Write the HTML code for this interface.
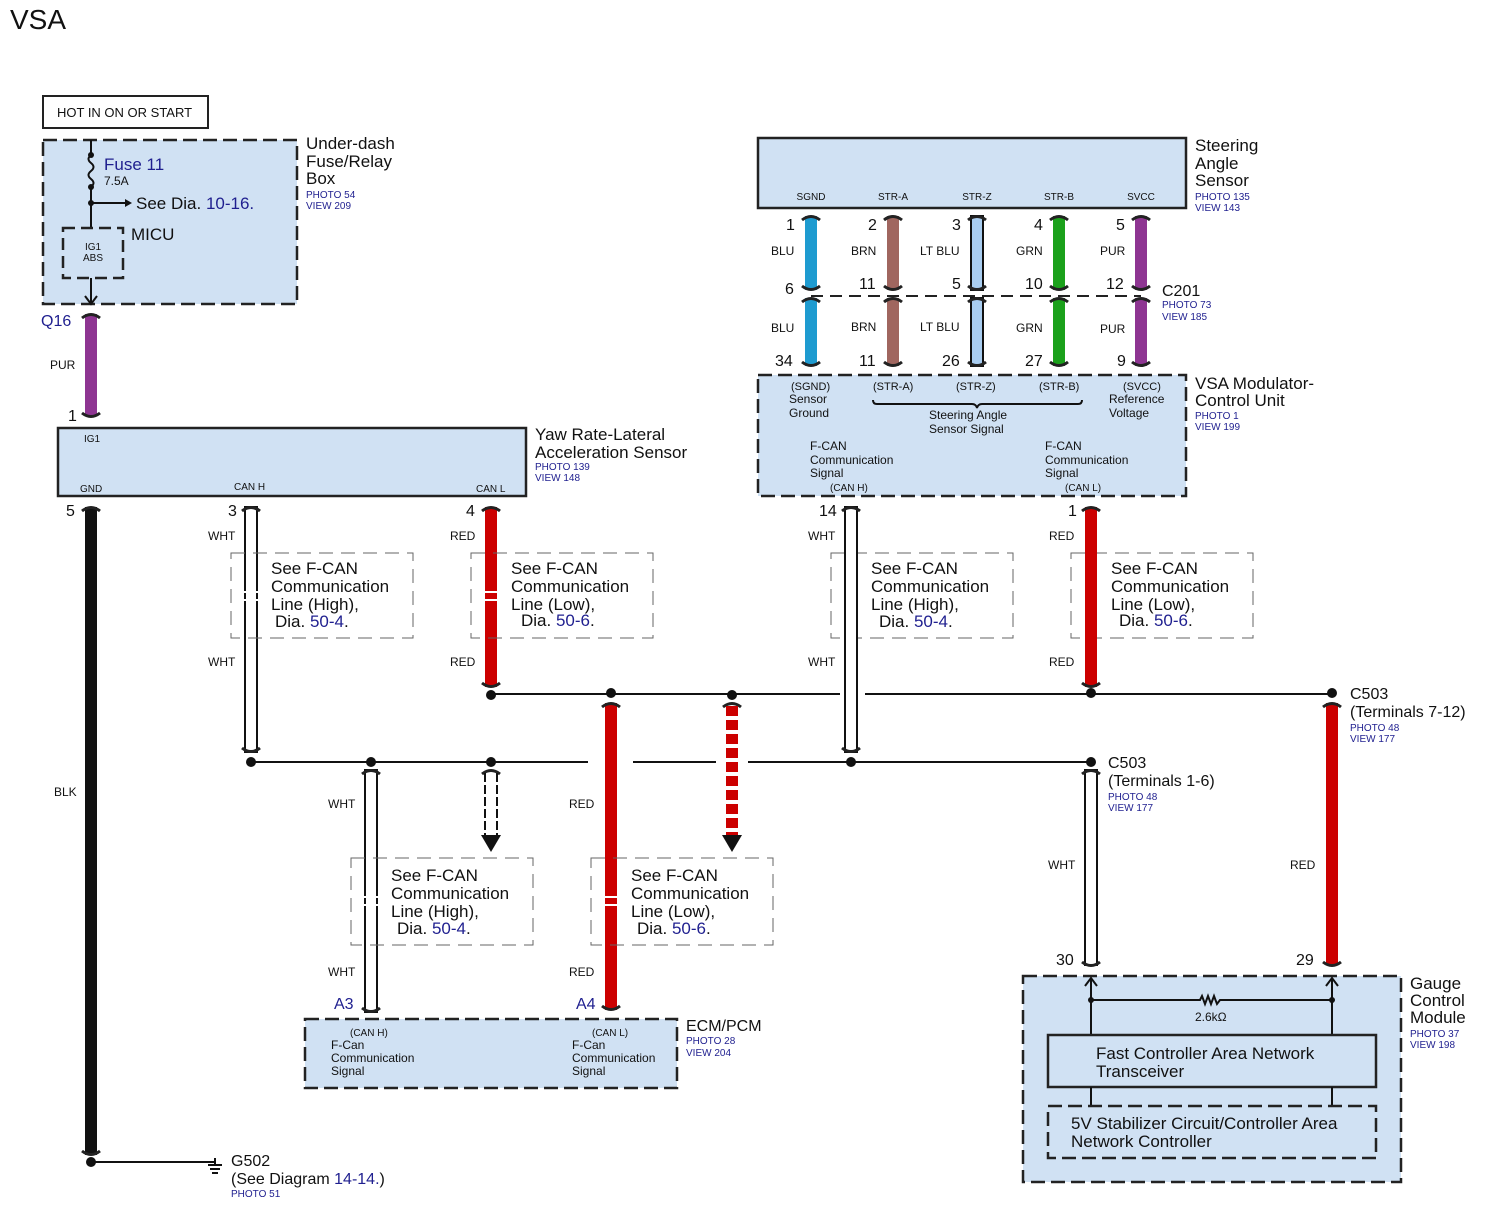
<!DOCTYPE html>
<html><head><meta charset="utf-8"><style>
html,body{margin:0;padding:0;background:#fff}
svg{display:block}
text{font-family:"Liberation Sans",Arial,sans-serif;fill:#111}
.b{fill:#1f1f8f}
.s10{font-size:10px}.s11{font-size:11px}.s12{font-size:12px}.s13{font-size:13px}.s16{font-size:16px}.s17{font-size:17px}
.box{fill:#d0e1f3;stroke:#222;stroke-width:2.5}
.dash{stroke-dasharray:14 6}
.see{fill:none;stroke:#666;stroke-width:1;stroke-dasharray:14 8}
.cap{fill:none;stroke:#222;stroke-width:3}
.ln{stroke:#111;stroke-width:2;fill:none}
</style></head><body>
<svg width="1494" height="1207" viewBox="0 0 1494 1207" xmlns="http://www.w3.org/2000/svg">
<defs>
<g id="capT"><path class="cap" d="M-9 4 Q0 -3 9 4"/></g>
<g id="capB"><path class="cap" d="M-9 -4 Q0 3 9 -4"/></g>
</defs>
<text x="10" y="29" style="font-size:28px">VSA</text>

<!-- HOT box -->
<rect x="43" y="96" width="165" height="32" fill="#fff" stroke="#222" stroke-width="2"/>
<text x="57" y="117" class="s13">HOT IN ON OR START</text>

<!-- Under-dash -->
<rect x="43" y="140" width="254" height="164" class="box dash"/>
<line x1="91" y1="140" x2="91" y2="155" class="ln"/>
<path d="M91 155 q-5 4 0 8 q5 4 0 8 q-5 4 0 8 q5 4 0 8" class="ln"/>
<line x1="91" y1="187" x2="91" y2="228" class="ln"/>
<circle cx="91" cy="155" r="3" fill="#111"/><circle cx="91" cy="187" r="3" fill="#111"/><circle cx="91" cy="203" r="3" fill="#111"/>
<line x1="91" y1="203" x2="126" y2="203" class="ln"/><path d="M125 199 L132 203 L125 207Z" fill="#111"/>
<text x="104" y="170" class="s17 b">Fuse 11</text>
<text x="104" y="185" class="s12">7.5A</text>
<text x="136" y="209" class="s17">See Dia. <tspan class="b">10-16.</tspan></text>
<rect x="63" y="228" width="60" height="50" fill="none" stroke="#222" stroke-width="2.5" stroke-dasharray="12 6"/>
<text x="93" y="250" class="s10" text-anchor="middle">IG1</text><text x="93" y="261" class="s10" text-anchor="middle">ABS</text>
<text x="131" y="240" class="s17">MICU</text>
<line x1="91" y1="278" x2="91" y2="304" class="ln"/><path d="M85 296 L91 304 L97 296" class="ln"/>
<text x="306" y="149" class="s17">Under-dash</text><text x="306" y="167" class="s17">Fuse/Relay</text><text x="306" y="184" class="s17">Box</text>
<text x="306" y="198" class="s10 b">PHOTO 54</text><text x="306" y="209" class="s10 b">VIEW 209</text>

<text x="41" y="326" class="s16 b">Q16</text>
<rect x="85" y="314" width="12" height="102" fill="#8e3592"/>
<use href="#capT" x="91" y="314"/><use href="#capB" x="91" y="417"/>
<text x="50" y="369" class="s12">PUR</text>
<text x="68" y="421" class="s16">1</text>

<!-- Yaw -->
<rect x="58" y="428" width="468" height="68" class="box"/>
<text x="84" y="442" class="s10">IG1</text>
<text x="80" y="492" class="s10">GND</text><text x="234" y="490" class="s10">CAN H</text><text x="476" y="492" class="s10">CAN L</text>
<text x="535" y="440" class="s17">Yaw Rate-Lateral</text><text x="535" y="458" class="s17">Acceleration Sensor</text>
<text x="535" y="470" class="s10 b">PHOTO 139</text><text x="535" y="481" class="s10 b">VIEW 148</text>
<text x="66" y="516" class="s16">5</text><text x="228" y="516" class="s16">3</text><text x="466" y="516" class="s16">4</text>

<!-- BLK ground -->
<rect x="85" y="507" width="12" height="648" fill="#111"/>
<use href="#capT" x="91" y="507"/><use href="#capB" x="91" y="1155"/>
<text x="54" y="796" class="s12">BLK</text>
<circle cx="91" cy="1162" r="5" fill="#111"/>
<line x1="91" y1="1162" x2="215" y2="1162" class="ln"/>
<line x1="215" y1="1158" x2="215" y2="1165" class="ln"/>
<line x1="208" y1="1165" x2="222" y2="1165" class="ln"/><line x1="210" y1="1169" x2="220" y2="1169" class="ln"/><line x1="212" y1="1173" x2="218" y2="1173" class="ln"/>
<text x="231" y="1166" class="s16">G502</text>
<text x="231" y="1184" class="s16">(See Diagram <tspan class="b">14-14.</tspan>)</text>
<text x="231" y="1197" class="s10 b">PHOTO 51</text>

<!-- bus lines -->
<path d="M251 762 H588 M633 762 H716 M748 762 H1091" class="ln"/>
<path d="M491 694 H840 M865 694 H1332" class="ln"/>

<!-- WHT 3 -->
<rect x="245" y="507" width="12" height="245" fill="#fff" stroke="#111" stroke-width="2"/>
<use href="#capT" x="251" y="507"/><use href="#capB" x="251" y="752"/>
<circle cx="251" cy="762" r="5" fill="#111"/>
<text x="208" y="540" class="s12">WHT</text><text x="208" y="666" class="s12">WHT</text>
<!-- RED 4 -->
<rect x="485" y="507" width="12" height="180" fill="#c00"/>
<use href="#capT" x="491" y="507"/><use href="#capB" x="491" y="687"/>
<circle cx="491" cy="695" r="5" fill="#111"/>
<text x="450" y="540" class="s12">RED</text><text x="450" y="666" class="s12">RED</text>

<!-- See boxes row 1 -->
<g>
<rect x="231" y="553" width="182" height="85" class="see"/>
<rect x="471" y="553" width="182" height="85" class="see"/>
<rect x="831" y="553" width="182" height="85" class="see"/>
<rect x="1071" y="553" width="182" height="85" class="see"/>
</g>
<g class="s17">
<text x="271" y="574">See F-CAN</text><text x="271" y="592">Communication</text><text x="271" y="610">Line (High),</text><text x="275" y="627">Dia. <tspan class="b">50-4</tspan>.</text>
<text x="511" y="574">See F-CAN</text><text x="511" y="592">Communication</text><text x="511" y="610">Line (Low),</text><text x="521" y="626">Dia. <tspan class="b">50-6</tspan>.</text>
<text x="871" y="574">See F-CAN</text><text x="871" y="592">Communication</text><text x="871" y="610">Line (High),</text><text x="879" y="627">Dia. <tspan class="b">50-4</tspan>.</text>
<text x="1111" y="574">See F-CAN</text><text x="1111" y="592">Communication</text><text x="1111" y="610">Line (Low),</text><text x="1119" y="626">Dia. <tspan class="b">50-6</tspan>.</text>
</g>
<!-- break marks -->
<g stroke="#fff" stroke-width="2">
<line x1="244" y1="592" x2="258" y2="592"/><line x1="244" y1="600" x2="258" y2="600"/>
<line x1="484" y1="592" x2="498" y2="592"/><line x1="484" y1="600" x2="498" y2="600"/>
<line x1="844" y1="592" x2="858" y2="592"/><line x1="844" y1="600" x2="858" y2="600"/>
<line x1="1084" y1="592" x2="1098" y2="592"/><line x1="1084" y1="600" x2="1098" y2="600"/>
</g>

<!-- middle drops -->
<circle cx="611" cy="693" r="5" fill="#111"/>
<rect x="605" y="703" width="12" height="307" fill="#c00"/>
<use href="#capT" x="611" y="703"/><use href="#capB" x="611" y="1010"/>
<text x="569" y="808" class="s12">RED</text><text x="569" y="976" class="s12">RED</text>
<text x="576" y="1009" class="s16 b">A4</text>

<circle cx="732" cy="695" r="5" fill="#111"/>
<use href="#capT" x="732" y="703"/>
<line x1="732" y1="706" x2="732" y2="835" stroke="#c00" stroke-width="12" stroke-dasharray="10 4"/>
<path d="M722 835 H742 L732 852Z" fill="#111"/>

<circle cx="371" cy="762" r="5" fill="#111"/>
<rect x="365" y="770" width="12" height="242" fill="#fff" stroke="#111" stroke-width="2"/>
<use href="#capT" x="371" y="770"/><use href="#capB" x="371" y="1012"/>
<text x="328" y="808" class="s12">WHT</text><text x="328" y="976" class="s12">WHT</text>
<text x="334" y="1009" class="s16 b">A3</text>

<circle cx="491" cy="762" r="5" fill="#111"/>
<use href="#capT" x="491" y="770"/>
<line x1="485" y1="773" x2="485" y2="835" stroke="#111" stroke-width="2" stroke-dasharray="9 3"/>
<line x1="497" y1="773" x2="497" y2="835" stroke="#111" stroke-width="2" stroke-dasharray="9 3"/>
<path d="M481 835 H501 L491 852Z" fill="#111"/>

<!-- see boxes row 2 -->
<rect x="351" y="858" width="182" height="87" class="see"/>
<rect x="591" y="858" width="182" height="87" class="see"/>
<g stroke="#fff" stroke-width="2">
<line x1="364" y1="897" x2="378" y2="897"/><line x1="364" y1="905" x2="378" y2="905"/>
<line x1="604" y1="897" x2="618" y2="897"/><line x1="604" y1="905" x2="618" y2="905"/>
</g>
<g class="s17">
<text x="391" y="881">See F-CAN</text><text x="391" y="899">Communication</text><text x="391" y="917">Line (High),</text><text x="397" y="934">Dia. <tspan class="b">50-4</tspan>.</text>
<text x="631" y="881">See F-CAN</text><text x="631" y="899">Communication</text><text x="631" y="917">Line (Low),</text><text x="637" y="934">Dia. <tspan class="b">50-6</tspan>.</text>
</g>

<!-- ECM -->
<rect x="305" y="1019" width="372" height="69" class="box dash"/>
<text x="350" y="1036" class="s10">(CAN H)</text>
<text x="331" y="1049" class="s12">F-Can</text><text x="331" y="1062" class="s12">Communication</text><text x="331" y="1075" class="s12">Signal</text>
<text x="592" y="1036" class="s10">(CAN L)</text>
<text x="572" y="1049" class="s12">F-Can</text><text x="572" y="1062" class="s12">Communication</text><text x="572" y="1075" class="s12">Signal</text>
<text x="686" y="1031" class="s16">ECM/PCM</text>
<text x="686" y="1044" class="s10 b">PHOTO 28</text><text x="686" y="1056" class="s10 b">VIEW 204</text>

<!-- Steering angle sensor -->
<rect x="758" y="138" width="428" height="70" class="box"/>
<g class="s10" text-anchor="middle">
<text x="811" y="200">SGND</text><text x="893" y="200">STR-A</text><text x="977" y="200">STR-Z</text><text x="1059" y="200">STR-B</text><text x="1141" y="200">SVCC</text>
</g>
<text x="1195" y="151" class="s17">Steering</text><text x="1195" y="169" class="s17">Angle</text><text x="1195" y="186" class="s17">Sensor</text>
<text x="1195" y="200" class="s10 b">PHOTO 135</text><text x="1195" y="211" class="s10 b">VIEW 143</text>

<line x1="811" y1="296" x2="1141" y2="296" stroke="#222" stroke-width="2" stroke-dasharray="12 7"/>
<g>
<rect x="805" y="216" width="12" height="74" fill="#1e9bd0"/><rect x="805" y="298" width="12" height="68" fill="#1e9bd0"/>
<rect x="887" y="216" width="12" height="74" fill="#a0665f"/><rect x="887" y="298" width="12" height="68" fill="#a0665f"/>
<rect x="971" y="216" width="12" height="74" fill="#a9cdf0" stroke="#111" stroke-width="2"/><rect x="971" y="298" width="12" height="68" fill="#a9cdf0" stroke="#111" stroke-width="2"/>
<rect x="1053" y="216" width="12" height="74" fill="#1ba11b"/><rect x="1053" y="298" width="12" height="68" fill="#1ba11b"/>
<rect x="1135" y="216" width="12" height="74" fill="#8e3592"/><rect x="1135" y="298" width="12" height="68" fill="#8e3592"/>
</g>
<g>
<use href="#capT" x="811" y="216"/><use href="#capB" x="811" y="290"/><use href="#capT" x="811" y="298"/><use href="#capB" x="811" y="366"/>
<use href="#capT" x="893" y="216"/><use href="#capB" x="893" y="290"/><use href="#capT" x="893" y="298"/><use href="#capB" x="893" y="366"/>
<use href="#capT" x="977" y="216"/><use href="#capB" x="977" y="290"/><use href="#capT" x="977" y="298"/><use href="#capB" x="977" y="366"/>
<use href="#capT" x="1059" y="216"/><use href="#capB" x="1059" y="290"/><use href="#capT" x="1059" y="298"/><use href="#capB" x="1059" y="366"/>
<use href="#capT" x="1141" y="216"/><use href="#capB" x="1141" y="290"/><use href="#capT" x="1141" y="298"/><use href="#capB" x="1141" y="366"/>
</g>
<g class="s16">
<text x="786" y="230">1</text><text x="868" y="230">2</text><text x="952" y="230">3</text><text x="1034" y="230">4</text><text x="1116" y="230">5</text>
<text x="785" y="294">6</text><text x="859" y="289">11</text><text x="952" y="289">5</text><text x="1025" y="289">10</text><text x="1106" y="289">12</text>
<text x="775" y="366">34</text><text x="859" y="366">11</text><text x="942" y="366">26</text><text x="1025" y="366">27</text><text x="1117" y="366">9</text>
</g>
<g class="s12">
<text x="771" y="255">BLU</text><text x="851" y="255">BRN</text><text x="920" y="255">LT BLU</text><text x="1016" y="255">GRN</text><text x="1100" y="255">PUR</text>
<text x="771" y="332">BLU</text><text x="851" y="331">BRN</text><text x="920" y="331">LT BLU</text><text x="1016" y="332">GRN</text><text x="1100" y="333">PUR</text>
</g>
<text x="1162" y="296" class="s16">C201</text>
<text x="1162" y="308" class="s10 b">PHOTO 73</text><text x="1162" y="320" class="s10 b">VIEW 185</text>

<!-- VSA modulator -->
<rect x="758" y="375" width="428" height="121" class="box dash"/>
<g class="s12">
<text x="791" y="390" class="s11">(SGND)</text><text x="789" y="403">Sensor</text><text x="789" y="417">Ground</text>
<text x="873" y="390" class="s11">(STR-A)</text><text x="956" y="390" class="s11">(STR-Z)</text><text x="1039" y="390" class="s11">(STR-B)</text>
<text x="1123" y="390" class="s11">(SVCC)</text><text x="1109" y="403">Reference</text><text x="1109" y="417">Voltage</text>
<text x="929" y="419">Steering Angle</text><text x="929" y="433">Sensor Signal</text>
<text x="810" y="450">F-CAN</text><text x="810" y="464">Communication</text><text x="810" y="477">Signal</text>
<text x="1045" y="450">F-CAN</text><text x="1045" y="464">Communication</text><text x="1045" y="477">Signal</text>
<text x="830" y="491" class="s10">(CAN H)</text><text x="1065" y="491" class="s10">(CAN L)</text>
</g>
<path d="M873 400 Q873 404 877 404 H972 Q976 404 977 408 Q978 404 982 404 H1078 Q1082 404 1082 400" class="ln" stroke-width="1.2"/>
<text x="1195" y="389" class="s17">VSA Modulator-</text><text x="1195" y="406" class="s17">Control Unit</text>
<text x="1195" y="419" class="s10 b">PHOTO 1</text><text x="1195" y="430" class="s10 b">VIEW 199</text>

<!-- wire 14 WHT -->
<text x="819" y="516" class="s16">14</text>
<rect x="845" y="507" width="12" height="245" fill="#fff" stroke="#111" stroke-width="2"/>
<use href="#capT" x="851" y="507"/><use href="#capB" x="851" y="752"/>
<circle cx="851" cy="762" r="5" fill="#111"/>
<text x="808" y="540" class="s12">WHT</text><text x="808" y="666" class="s12">WHT</text>
<!-- wire 1 RED -->
<text x="1068" y="516" class="s16">1</text>
<rect x="1085" y="507" width="12" height="180" fill="#c00"/>
<use href="#capT" x="1091" y="507"/><use href="#capB" x="1091" y="687"/>
<circle cx="1091" cy="693" r="5" fill="#111"/>
<text x="1049" y="540" class="s12">RED</text><text x="1049" y="666" class="s12">RED</text>

<!-- C503 -->
<circle cx="1332" cy="693" r="5" fill="#111"/>
<text x="1350" y="699" class="s16">C503</text><text x="1350" y="717" class="s16">(Terminals 7-12)</text>
<text x="1350" y="731" class="s10 b">PHOTO 48</text><text x="1350" y="742" class="s10 b">VIEW 177</text>
<rect x="1326" y="703" width="12" height="262" fill="#c00"/>
<use href="#capT" x="1332" y="703"/><use href="#capB" x="1332" y="966"/>
<text x="1290" y="869" class="s12">RED</text>
<text x="1296" y="965" class="s16">29</text>

<circle cx="1091" cy="762" r="5" fill="#111"/>
<text x="1108" y="768" class="s16">C503</text><text x="1108" y="786" class="s16">(Terminals 1-6)</text>
<text x="1108" y="800" class="s10 b">PHOTO 48</text><text x="1108" y="811" class="s10 b">VIEW 177</text>
<rect x="1085" y="770" width="12" height="195" fill="#fff" stroke="#111" stroke-width="2"/>
<use href="#capT" x="1091" y="770"/><use href="#capB" x="1091" y="966"/>
<text x="1048" y="869" class="s12">WHT</text>
<text x="1056" y="965" class="s16">30</text>

<!-- Gauge -->
<rect x="1023" y="976" width="378" height="206" class="box dash"/>
<text x="1410" y="989" class="s17">Gauge</text><text x="1410" y="1006" class="s17">Control</text><text x="1410" y="1023" class="s17">Module</text>
<text x="1410" y="1037" class="s10 b">PHOTO 37</text><text x="1410" y="1048" class="s10 b">VIEW 198</text>
<path d="M1091 1035 V978 M1085 986 L1091 978 L1097 986 M1332 1035 V978 M1326 986 L1332 978 L1338 986" class="ln"/>
<path d="M1091 1000 H1200 l2 -4 l3 8 l3 -8 l3 8 l3 -8 l3 8 l3 -4 H1332" class="ln"/>
<circle cx="1091" cy="1000" r="3" fill="#111"/><circle cx="1332" cy="1000" r="3" fill="#111"/>
<text x="1195" y="1021" class="s12">2.6kΩ</text>
<rect x="1048" y="1035" width="328" height="52" fill="#d0e1f3" stroke="#222" stroke-width="2.5"/>
<text x="1096" y="1059" class="s17">Fast Controller Area Network</text><text x="1096" y="1077" class="s17">Transceiver</text>
<path d="M1091 1087 V1106 M1332 1087 V1106" class="ln"/>
<rect x="1048" y="1106" width="328" height="52" fill="none" stroke="#222" stroke-width="2.5" stroke-dasharray="14 6"/>
<text x="1071" y="1129" class="s17">5V Stabilizer Circuit/Controller Area</text><text x="1071" y="1147" class="s17">Network Controller</text>
</svg>
</body></html>
